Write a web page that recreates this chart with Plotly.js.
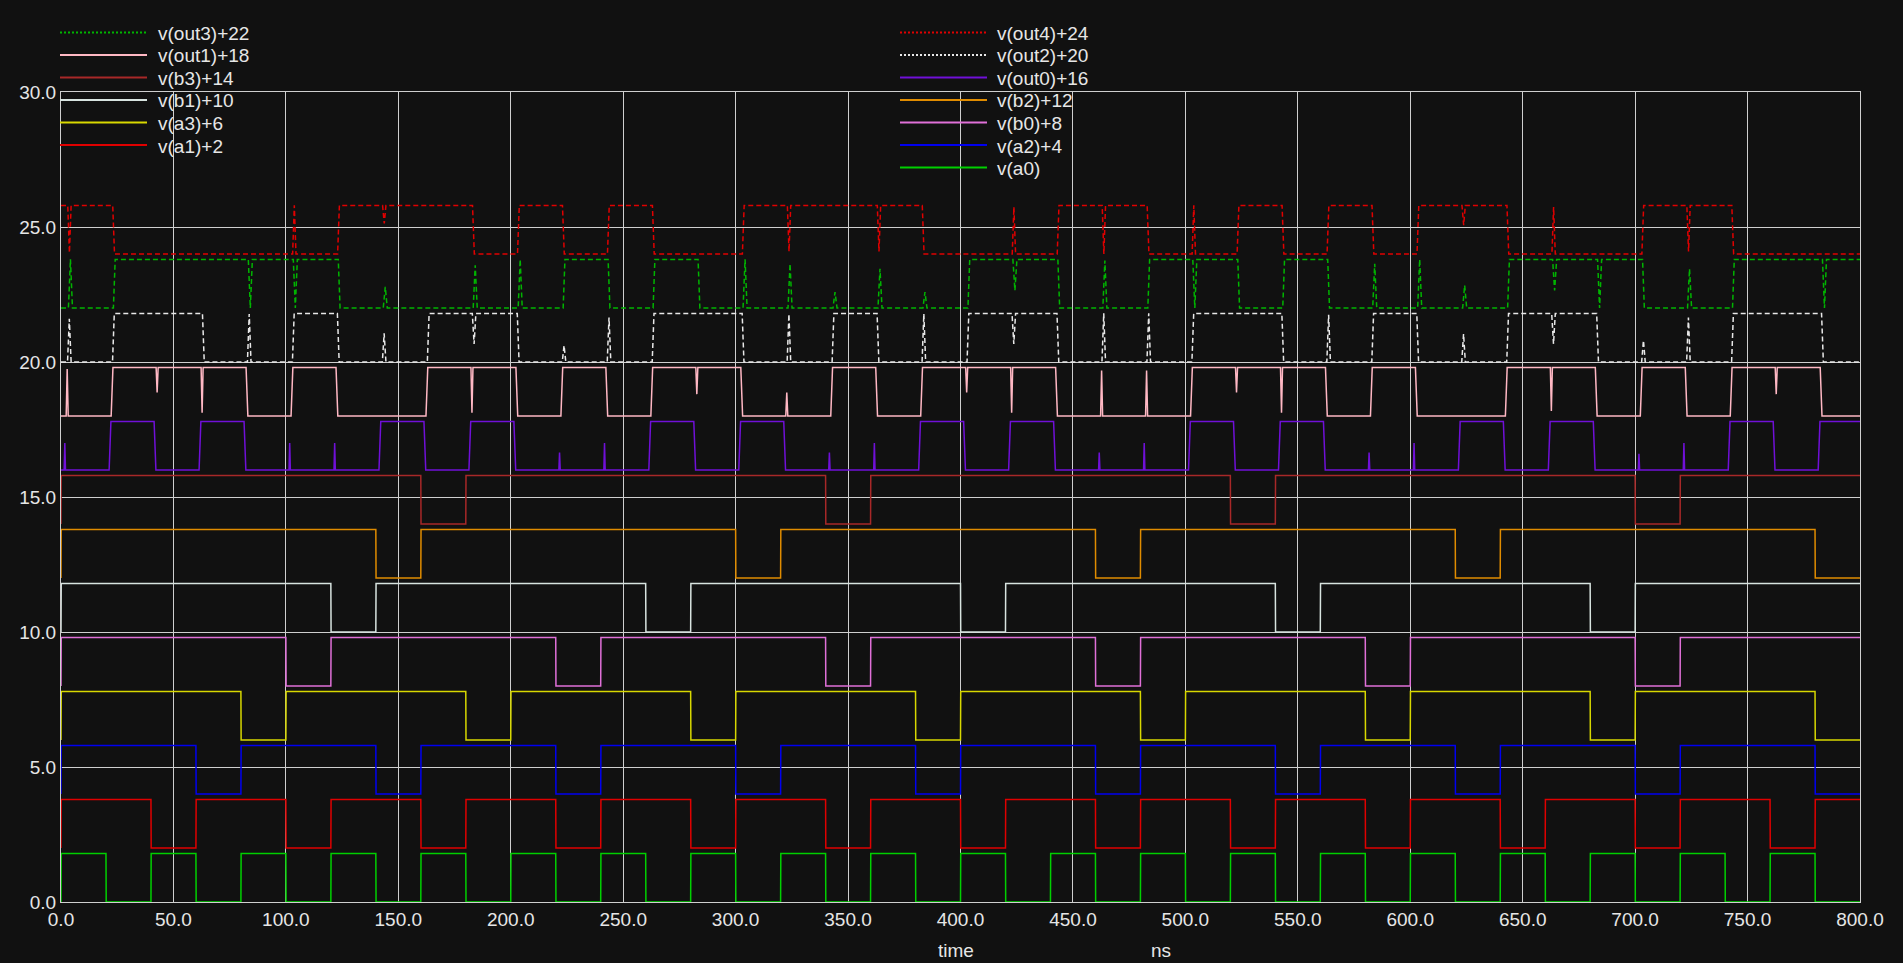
<!DOCTYPE html>
<html><head><meta charset="utf-8">
<script src="https://cdn.plot.ly/plotly-3.0.1.min.js"></script>
<style>html,body{margin:0;padding:0;background:#111111;overflow:hidden}#chart{width:1903px;height:963px}</style>
</head><body><div id="chart"></div>
<script>
// ---------------- data ----------------
const slotNs = 20;           // each input vector lasts 20 ns
const highV = 1.8;           // logic high level (V)

// inputs: logic level in each 20 ns slot (40 slots = 0..800 ns)
const a0 = [1,0,1,0,1,0,1,0,1,0, 1,0,1,0,1,0,1,0,1,0, 1,0,1,0,1,0,1,0,1,0, 1,0,1,0,1,0,1,0,1,0];
const a1 = [1,1,0,1,1,0,1,1,0,1, 1,0,1,1,0,1,1,0,1,1, 0,1,1,0,1,1,0,1,1,0, 1,1,0,1,1,0,1,1,0,1];
const a2 = [1,1,1,0,1,1,1,0,1,1, 1,0,1,1,1,0,1,1,1,0, 1,1,1,0,1,1,1,0,1,1, 1,0,1,1,1,0,1,1,1,0];
const a3 = [1,1,1,1,0,1,1,1,1,0, 1,1,1,1,0,1,1,1,1,0, 1,1,1,1,0,1,1,1,1,0, 1,1,1,1,0,1,1,1,1,0];
const b0 = [1,1,1,1,1,0,1,1,1,1, 1,0,1,1,1,1,1,0,1,1, 1,1,1,0,1,1,1,1,1,0, 1,1,1,1,1,0,1,1,1,1];
const b1 = [1,1,1,1,1,1,0,1,1,1, 1,1,1,0,1,1,1,1,1,1, 0,1,1,1,1,1,1,0,1,1, 1,1,1,1,0,1,1,1,1,1];
const b2 = [1,1,1,1,1,1,1,0,1,1, 1,1,1,1,1,0,1,1,1,1, 1,1,1,0,1,1,1,1,1,1, 1,0,1,1,1,1,1,1,1,0];
const b3 = [1,1,1,1,1,1,1,1,0,1, 1,1,1,1,1,1,1,0,1,1, 1,1,1,1,1,1,0,1,1,1, 1,1,1,1,1,0,1,1,1,1];

// outputs: settled level in each slot
const out0 = [0,1,0,1,0,0,0,1,0,1, 0,0,0,1,0,1,0,0,0,1, 0,1,0,0,0,1,0,1,0,0, 0,1,0,1,0,0,0,1,0,1];
const out1 = [0,1,1,1,0,1,0,0,1,1, 0,1,0,1,1,0,0,1,0,1, 1,1,0,0,0,1,1,1,0,1, 0,0,1,1,0,1,0,1,1,0];
const out2 = [0,1,1,0,0,1,0,0,1,1, 0,0,0,1,1,0,0,1,0,0, 1,1,0,0,0,1,1,0,0,1, 0,0,1,1,0,0,0,1,1,0];
const out3 = [0,1,1,1,1,1,0,0,0,0, 0,1,0,1,0,0,0,0,0,0, 1,1,0,0,1,1,0,1,0,0, 0,0,1,1,1,0,0,1,1,1];
const out4 = [1,0,0,0,0,0,1,1,1,0, 1,0,1,0,0,1,1,1,1,0, 0,0,1,1,0,0,1,0,1,0, 1,1,0,0,0,1,1,0,0,0];

// switching glitches: [slot, peak voltage]
const out0Glitch = [[0,1.0],[5,1.0],[6,1.0],[11,0.65],[12,1.0],[17,0.65],[18,1.0],[23,0.65],[24,1.0],[29,0.65],[30,1.0],[35,0.6],[36,1.0]];
const out1Glitch = [[0,1.74],[2,0.87],[3,0.12],[9,0.12],[14,0.81],[16,0.87],[20,0.87],[21,0.12],[23,1.68],[24,1.68],[26,0.87],[27,0.12],[33,0.19],[38,0.81]];
const out2Glitch = [[0,1.6],[4,1.78],[7,1.06],[9,0.67],[11,0.61],[12,1.65],[16,1.78],[19,1.78],[21,0.67],[23,1.8],[24,1.8],[28,1.75],[31,1.04],[33,0.67],[35,0.8],[36,1.65]];
const out3Glitch = [[0,1.8],[4,0],[5,0],[7,0.78],[9,1.58],[10,1.8],[15,1.8],[16,1.64],[17,0.59],[18,1.45],[19,0.59],[21,0.65],[23,1.76],[25,0],[29,1.64],[30,1.8],[31,0.84],[33,0.65],[34,0],[36,1.45],[39,0]];
const out4Glitch = [[0,0.05],[5,1.8],[7,1.13],[16,0.09],[18,0.09],[21,1.74],[23,0.0],[25,1.8],[31,1.07],[33,1.74],[36,0.09]];

// propagation delay after each input change (ns)
const outDelay = [1.4, 2.3, 2.9, 3.3, 3.0];

const labels  = ['v(a0)','v(a1)+2','v(a2)+4','v(a3)+6','v(b0)+8','v(b1)+10','v(b2)+12','v(b3)+14',
                 'v(out0)+16','v(out1)+18','v(out2)+20','v(out3)+22','v(out4)+24'];
const offsets = [0,2,4,6,8,10,12,14,16,18,20,22,24];

// ---------------- styling ----------------
const colors = ['#00d000','#e00000','#0000f0','#d8d800','#e070d8','#d8e4e0','#e08c00','#a82828',
                '#7010d8','#ffb8c4','#e8e8e8','#00b400','#e00000'];
const dashes = ['solid','solid','solid','solid','solid','solid','solid','solid',
                'solid','solid','5px,3px','5px,3px','5px,3px'];

function wave(bits, offset, delay, rise, glitches, gw, startLow) {
  const gl = new Map((glitches || []).map(g => [g[0], g[1]]));
  const x = [], y = [];
  let prev = startLow ? 0 : bits[0];
  x.push(0); y.push(offset + prev * highV);
  for (let k = 0; k < bits.length; k++) {
    const t0 = k * slotNs + delay;
    const v = bits[k];
    if (v !== prev) {
      x.push(t0, t0 + rise); y.push(offset + prev * highV, offset + v * highV); prev = v;
    }
    if (gl.has(k)) {
      x.push(t0, t0 + gw / 2, t0 + gw);
      y.push(offset + prev * highV, offset + gl.get(k), offset + prev * highV);
    }
  }
  x.push(bits.length * slotNs); y.push(offset + prev * highV);
  return {x, y};
}

const inputs = [a0,a1,a2,a3,b0,b1,b2,b3];
const outputs = [out0,out1,out2,out3,out4];
const glitchSets = [out0Glitch,out1Glitch,out2Glitch,out3Glitch,out4Glitch];
const glitchWidth = [0.6, 0.9, 1.6, 1.8, 1.5];

const traces = [];
inputs.forEach((bits, i) => {
  const w = wave(bits, offsets[i], 0, 0.1, null, 0, true);
  traces.push({type:'scatter', mode:'lines', x:w.x, y:w.y, name:labels[i],
    line:{color:colors[i], width:1.5, dash:dashes[i]}, showlegend:false, hoverinfo:'skip'});
});
outputs.forEach((bits, j) => {
  const i = 8 + j;
  const w = wave(bits, offsets[i], outDelay[j], 0.8, glitchSets[j], glitchWidth[j], false);
  traces.push({type:'scatter', mode:'lines', x:w.x, y:w.y, name:labels[i],
    line:{color:colors[i], width:1.5, dash:dashes[i]}, showlegend:false, hoverinfo:'skip'});
});

// ---------------- layout ----------------
const W = 1903, H = 963;
const M = {l:61, r:43, t:92, b:61};
const px2x = px => (px - M.l) / (W - M.l - M.r);
const py2y = py => (H - M.b - py) / (H - M.t - M.b);
const FONT = 'Liberation Sans, Arial, sans-serif';
const textCol = '#e6e6e6';
const gridCol = '#cfcfcf';

// legend: two columns, drawn as sample line + label
const leftCol  = [11, 9, 7, 5, 3, 1];          // out3, out1, b3, b1, a3, a1
const rightCol = [12, 10, 8, 6, 4, 2, 0];      // out4, out2, out0, b2, b0, a2, a0
const rowY = [33.5, 56, 78.5, 101, 123.5, 146, 168.5];
const shapes = [], annotations = [];
function legendItem(i, row, lx0, lx1, tx) {
  shapes.push({type:'line', xref:'paper', yref:'paper', x0:px2x(lx0), x1:px2x(lx1),
    y0:py2y(rowY[row]-1), y1:py2y(rowY[row]-1),
    line:{color:colors[i], width:2, dash: dashes[i] === 'solid' ? 'solid' : '2px,2px'}});
  annotations.push({xref:'paper', yref:'paper', x:px2x(tx), y:py2y(rowY[row]), xanchor:'left', yanchor:'middle',
    text:labels[i], showarrow:false, font:{family:FONT, size:19, color:textCol}, borderpad:0});
}
leftCol.forEach((i, r) => legendItem(i, r, 60, 147, 157));
rightCol.forEach((i, r) => legendItem(i, r, 900, 987, 996));

// axis caption ("time" ... "ns") at the very bottom edge
annotations.push({xref:'paper', yref:'paper', x:px2x(956), y:py2y(962), xanchor:'center', yanchor:'bottom',
  text:'time', showarrow:false, font:{family:FONT, size:19, color:textCol}, borderpad:0});
annotations.push({xref:'paper', yref:'paper', x:px2x(1161), y:py2y(962), xanchor:'center', yanchor:'bottom',
  text:'ns', showarrow:false, font:{family:FONT, size:19, color:textCol}, borderpad:0});

const layout = {
  width: W, height: H, margin: M,
  paper_bgcolor:'#111111', plot_bgcolor:'#111111',
  showlegend:false,
  font:{family:FONT, size:19, color:textCol},
  xaxis:{range:[0,800], dtick:50, tick0:0, tickformat:'.1f', showgrid:true, gridcolor:gridCol, gridwidth:1,
    zeroline:false, showline:true, mirror:true, linecolor:gridCol, linewidth:1, ticks:'',
    tickfont:{family:FONT, size:19, color:textCol}, fixedrange:true},
  yaxis:{range:[0,30], dtick:5, tick0:0, tickformat:'.1f', showgrid:true, gridcolor:gridCol, gridwidth:1,
    zeroline:false, showline:true, mirror:true, linecolor:gridCol, linewidth:1, ticks:'',
    tickfont:{family:FONT, size:19, color:textCol}, fixedrange:true},
  shapes: shapes,
  annotations: annotations
};

Plotly.newPlot('chart', traces, layout, {displayModeBar:false, staticPlot:true});
</script>
</body></html>
